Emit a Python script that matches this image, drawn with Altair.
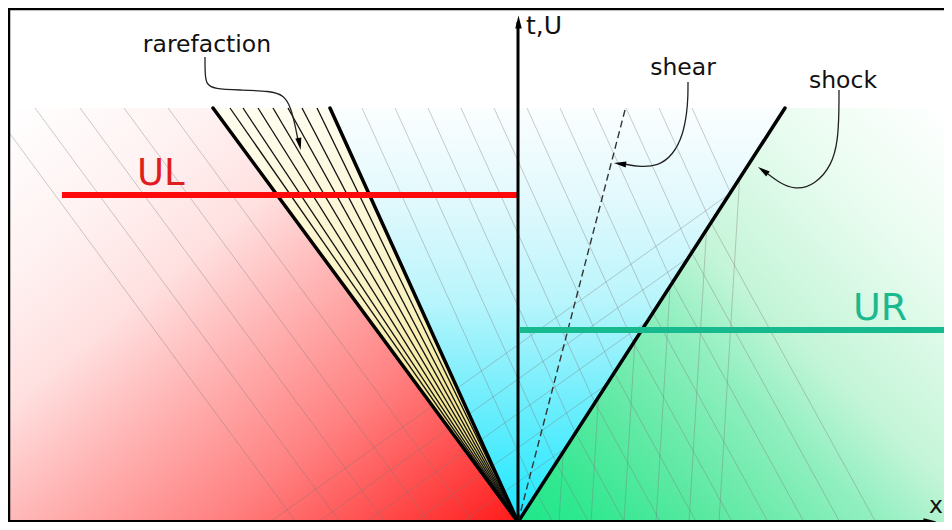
import altair as alt
import pandas as pd

# ---------------- geometry (page pixel units) ----------------
TOP_Y = 108            # upper edge of the coloured wave region
ORIGIN_X, ORIGIN_Y = 518, 522
HEAD_TOP_X = 213       # rarefaction head at the top
TAIL_TOP_X = 330       # rarefaction tail at the top
SHEAR_TOP_X = 625      # contact / shear line at the top
SHOCK_TOP_X = 785      # shock at the top
RIGHT_X = 944
LEFT_X = 9

fan_inner_top_x = [230, 243, 258, 273, 288, 302, 317]
left_char_top_x = [-9, 35, 80, 124, 168]                     # parallel to head
mid_char_top_x = [362, 395, 428, 461, 494, 527, 560, 593, 626, 659, 692]  # parallel to tail
green_char_slope = 0.55                                       # dx/dy after crossing shock
up_char_bottom_x = [270, 318, 366, 414, 462]                  # u+c family
up_char_slope = 1.4
vert_char_bottom_x = [559, 591, 624, 656, 689, 719]           # near-vertical family
vert_char_slope = 0.06

UL_Y, UL_X0 = 195, 62
UR_Y = 330

labels = ["rarefaction", "shear", "shock", "x"]
label_x = [207, 683, 843, 936]
label_y = [52, 75, 88, 513]

# ---------------- derived lines ----------------
H_TOTAL = ORIGIN_Y - TOP_Y
s_head = (ORIGIN_X - HEAD_TOP_X) / H_TOTAL
s_tail = (ORIGIN_X - TAIL_TOP_X) / H_TOTAL
s_shock = (SHOCK_TOP_X - ORIGIN_X) / H_TOTAL

hatch = []
for x0 in left_char_top_x:
    if x0 < LEFT_X:
        ys = TOP_Y + (LEFT_X - x0) / s_head
        hatch.append((LEFT_X, ys, x0 + s_head * H_TOTAL, ORIGIN_Y))
    else:
        hatch.append((x0, TOP_Y, x0 + s_head * H_TOTAL, ORIGIN_Y))
for x0 in mid_char_top_x:
    t = (SHOCK_TOP_X - x0) / (s_tail + s_shock)
    xe, ye = x0 + s_tail * t, TOP_Y + t
    hatch.append((x0, TOP_Y, xe, ye))
    if x0 <= 659:
        xb = xe + green_char_slope * (ORIGIN_Y - ye)
        hatch.append((xe, ye, xb, ORIGIN_Y))
for xb in up_char_bottom_x:
    s = (ORIGIN_X - xb) / (up_char_slope - s_shock)
    hatch.append((xb, ORIGIN_Y, ORIGIN_X + s_shock * s, ORIGIN_Y - s))
for xb in vert_char_bottom_x:
    s = (xb - ORIGIN_X) / (s_shock - vert_char_slope)
    hatch.append((xb, ORIGIN_Y, xb + vert_char_slope * s, ORIGIN_Y - s))
hatch_df = pd.DataFrame(hatch, columns=["x", "y", "x2", "y2"])

fan_df = pd.DataFrame({"x": fan_inner_top_x, "y": TOP_Y, "x2": ORIGIN_X, "y2": ORIGIN_Y})
edges_df = pd.DataFrame({"x": [HEAD_TOP_X, TAIL_TOP_X, SHOCK_TOP_X], "y": TOP_Y,
                         "x2": ORIGIN_X, "y2": ORIGIN_Y})
shear_df = pd.DataFrame({"x": [SHEAR_TOP_X], "y": [TOP_Y + 2], "x2": [ORIGIN_X], "y2": [ORIGIN_Y]})

# ---------------- scales ----------------
W, H = 936, 514
xs = alt.Scale(domain=[8, 944], nice=False, zero=False)
ysc = alt.Scale(domain=[8, 522], nice=False, zero=False, reverse=True)


def X(f):
    return alt.X(f, type="quantitative", scale=xs, axis=None)


def Y(f):
    return alt.Y(f, type="quantitative", scale=ysc, axis=None)


def grad(stops, x1, y1, x2, y2):
    return alt.Gradient(gradient="linear",
                        stops=[alt.GradientStop(offset=o, color=c) for o, c in stops],
                        x1=x1, y1=y1, x2=x2, y2=y2)


def region(y, x, x2, g):
    df = pd.DataFrame({"y": y, "x": x, "x2": x2})
    return alt.Chart(df).mark_area(orient="horizontal", color=g, strokeWidth=0).encode(
        y=Y("y"), x=X("x"), x2="x2")


def rules(df, **kw):
    return alt.Chart(df).mark_rule(**kw).encode(x=X("x"), y=Y("y"), x2="x2", y2="y2")


red = region([TOP_Y, ORIGIN_Y], [LEFT_X, LEFT_X], [HEAD_TOP_X, ORIGIN_X],
             grad([(0, "#ffffff"), (0.2, "#fff2f2"), (0.36, "#ffe0e0"), (0.5, "#ffb8b8"),
                   (0.7, "#ff8282"), (0.88, "#ff4545"), (1, "#ff1a1a")], 0, 0, 1, 1))
cyan = region([TOP_Y, ORIGIN_Y], [TAIL_TOP_X, ORIGIN_X], [SHOCK_TOP_X, ORIGIN_X],
              grad([(0, "#fbfeff"), (0.22, "#e2f9fd"), (0.46, "#baf5fc"), (0.7, "#72eefc"),
                    (0.9, "#38eaff"), (1, "#16e6ff")], 0, 0, 0, 1))
green = region([TOP_Y, ORIGIN_Y], [SHOCK_TOP_X, ORIGIN_X], [RIGHT_X, RIGHT_X],
               grad([(0, "#1ee68a"), (0.08, "#2ee88f"), (0.24, "#5ee9a3"), (0.42, "#90efbf"),
                     (0.55, "#c4f5d8"), (0.78, "#e8fcef"), (1, "#ffffff")], 0, 1, 1, 0))
fan = region([TOP_Y, ORIGIN_Y], [HEAD_TOP_X, ORIGIN_X], [TAIL_TOP_X, ORIGIN_X],
             grad([(0, "#fffdf0"), (0.5, "#faf1bd"), (1, "#ecd862")], 0, 0, 0, 1))

hatch_layer = rules(hatch_df, color="#7a7a7a", opacity=0.38, strokeWidth=1)
fan_lines = rules(fan_df, color="#111111", strokeWidth=1.3)
edge_lines = rules(edges_df, color="#000000", strokeWidth=3.5, strokeCap="round")
shear_line = rules(shear_df, color="#333333", strokeWidth=1.4, strokeDash=[7, 4])

ul_df = pd.DataFrame({"x": [UL_X0], "y": [UL_Y], "x2": [ORIGIN_X], "y2": [UL_Y]})
ur_df = pd.DataFrame({"x": [ORIGIN_X + 2], "y": [UR_Y], "x2": [RIGHT_X], "y2": [UR_Y]})
ul_line = rules(ul_df, color="#ff0a0a", strokeWidth=6)
ur_line = rules(ur_df, color="#17b98f", strokeWidth=6)

axes_df = pd.DataFrame({"x": [ORIGIN_X, LEFT_X], "y": [ORIGIN_Y, ORIGIN_Y - 0.5],
                        "x2": [ORIGIN_X, 930], "y2": [22, ORIGIN_Y - 0.5]})
axes_lines = rules(axes_df, color="#000000", strokeWidth=3)
frame_df = pd.DataFrame({"x": [8, LEFT_X], "y": [9, 8], "x2": [944, LEFT_X], "y2": [9, 522]})
frame = rules(frame_df, color="#000000", strokeWidth=2.5)

ARROW = "M0,-1L0.5,1L-0.5,1Z"
heads_df = pd.DataFrame({"x": [518.5, 930, 299.5, 620, 763], "y": [22, 521.5, 144, 163.7, 170.5],
                         "a": [0, 90, 169, 277, 306], "s": [170, 170, 150, 150, 150]})
heads = alt.Chart(heads_df).mark_point(shape=ARROW, filled=True, color="#000000", opacity=1).encode(
    x=X("x"), y=Y("y"), angle=alt.Angle("a:Q", scale=None), size=alt.Size("s:Q", scale=None))

curve_rows = []
rare_curve = [(205, 57), (205, 72), (206, 84), (214, 89), (240, 90), (270, 91), (284, 95), (291, 108), (295, 125), (298, 140)]
shear_curve = [(688, 82), (688, 96), (687, 112), (683, 135), (673, 155), (658, 166), (640, 167), (624, 164)]
shock_curve = [(839, 90), (839, 110), (838, 140), (832, 165), (815, 185), (795, 190), (778, 182), (768, 174)]
for g, pts in enumerate([rare_curve, shear_curve, shock_curve]):
    for i, (px, py) in enumerate(pts):
        curve_rows.append({"g": g, "i": i, "x": px, "y": py})
curves = alt.Chart(pd.DataFrame(curve_rows)).mark_line(interpolate="basis", color="#222222", strokeWidth=1.3).encode(
    x=X("x"), y=Y("y"), detail="g:N", order="i:Q")

text_df = pd.DataFrame({"t": labels, "x": label_x, "y": label_y})
texts = alt.Chart(text_df).mark_text(font="DejaVu Sans", fontSize=23.5, color="#111111",
                                      baseline="alphabetic", align="center").encode(
    x=X("x"), y=Y("y"), text="t:N")
tu = alt.Chart(pd.DataFrame({"t": ["t,U"], "x": [526], "y": [34]})).mark_text(
    font="DejaVu Sans", fontSize=25, color="#111111", baseline="alphabetic", align="left").encode(
    x=X("x"), y=Y("y"), text="t:N")
ul_text = alt.Chart(pd.DataFrame({"t": ["UL"], "x": [137], "y": [185]})).mark_text(
    font="DejaVu Sans", fontSize=37, color="#e01e1e", baseline="alphabetic", align="left").encode(
    x=X("x"), y=Y("y"), text="t:N")
ur_text = alt.Chart(pd.DataFrame({"t": ["UR"], "x": [853], "y": [320]})).mark_text(
    font="DejaVu Sans", fontSize=38, color="#1bb98f", baseline="alphabetic", align="left").encode(
    x=X("x"), y=Y("y"), text="t:N")

chart = alt.layer(
    red, cyan, green, hatch_layer, fan, fan_lines, edge_lines, shear_line,
    ul_line, ur_line, axes_lines, frame, curves, heads, texts, tu, ul_text, ur_text
).properties(
    width=W, height=H, autosize=alt.AutoSizeParams(type="none"), padding=0, background="#ffffff"
).configure_view(stroke=None)

chart.save("out.html", embed_options={"renderer": "svg", "actions": False})
